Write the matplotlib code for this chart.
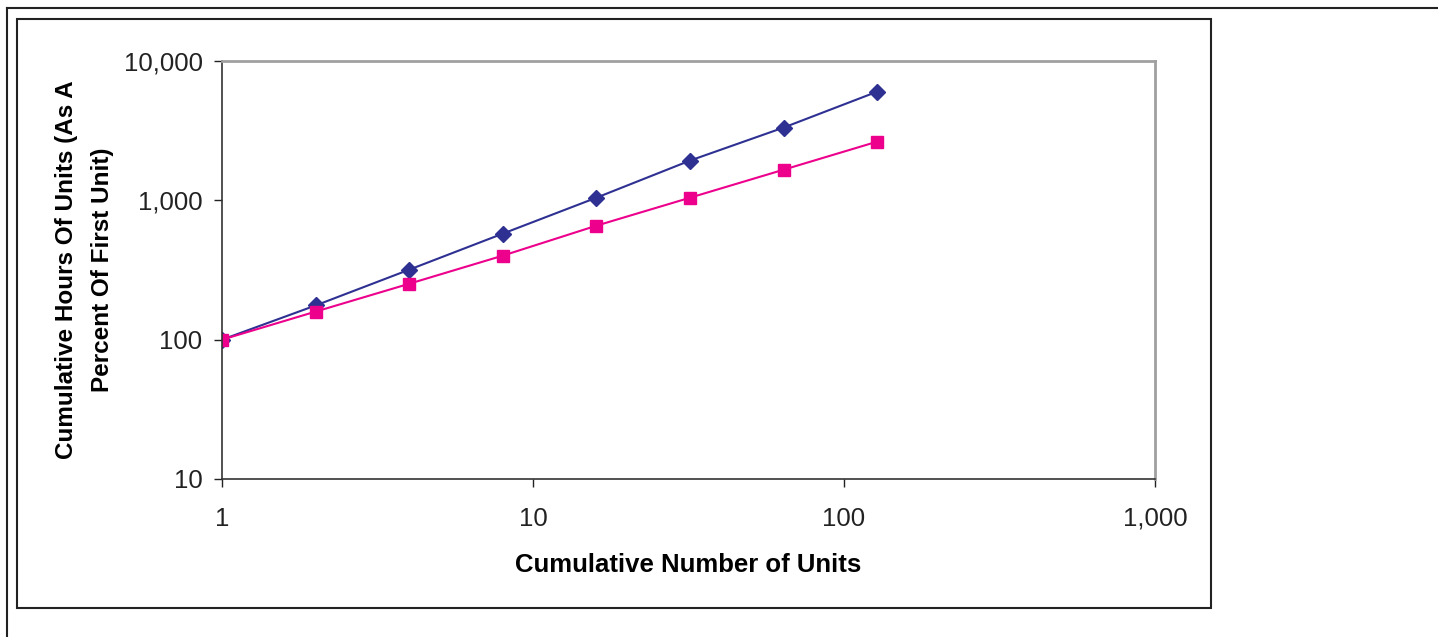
import matplotlib.pyplot as plt
from matplotlib.patches import Rectangle
from matplotlib.lines import Line2D
from matplotlib.ticker import FuncFormatter, NullLocator, FixedLocator

plt.rcParams['font.family'] = ['Liberation Sans', 'DejaVu Sans']

units = [1, 2, 4, 8, 16, 32, 64, 128]
hours_blue = [100, 176, 318, 577, 1045, 1930, 3330, 6030]
hours_pink = [100, 159, 252, 401, 658, 1045, 1660, 2640]

fig = plt.figure(figsize=(14.38, 6.37), dpi=100)

# page lines and chart border
fig.add_artist(Line2D([7 / 1438, 1], [1 - 8 / 637, 1 - 8 / 637], color='#222222', lw=1.5))
fig.add_artist(Line2D([7 / 1438, 7 / 1438], [0, 1 - 8 / 637], color='#222222', lw=1.5))
fig.add_artist(Rectangle((17 / 1438, 1 - 608 / 637), (1211 - 17) / 1438, (608 - 19) / 637,
                         fill=False, edgecolor='#222222', lw=1.5))

ax = fig.add_axes([222 / 1438, 1 - 479 / 637, (1155 - 222) / 1438, (479 - 61) / 637])
ax.plot(units, hours_blue, color='#2E3192', marker='D', markersize=8, lw=1.5)
ax.plot(units, hours_pink, color='#EC008C', marker='s', markersize=8, lw=1.5)

ax.set_xscale('log')
ax.set_yscale('log')
ax.set_xlim(1, 1000)
ax.set_ylim(10, 10000)
ax.xaxis.set_major_locator(FixedLocator([1, 10, 100, 1000]))
ax.yaxis.set_major_locator(FixedLocator([10, 100, 1000, 10000]))
ax.xaxis.set_minor_locator(NullLocator())
ax.yaxis.set_minor_locator(NullLocator())
fmt = FuncFormatter(lambda v, p: f'{int(round(v)):,}')
ax.xaxis.set_major_formatter(fmt)
ax.yaxis.set_major_formatter(fmt)
ax.tick_params(labelsize=18.5, length=6, width=1, color='#222222', labelcolor='#222222', pad=8)
ax.tick_params(axis='x', pad=14)

for side in ['top', 'right']:
    ax.spines[side].set_color('#a0a0a0')
    ax.spines[side].set_linewidth(2)
for side in ['left', 'bottom']:
    ax.spines[side].set_color('#333333')
    ax.spines[side].set_linewidth(1.2)

ax.set_xlabel('Cumulative Number of Units', fontsize=18.5, fontweight='bold', labelpad=16)
ax.set_ylabel('Cumulative Hours Of Units (As A\nPercent Of First Unit)', fontsize=17.5,
              fontweight='bold', labelpad=7, linespacing=1.7)

fig.savefig('out.png', dpi=100)
